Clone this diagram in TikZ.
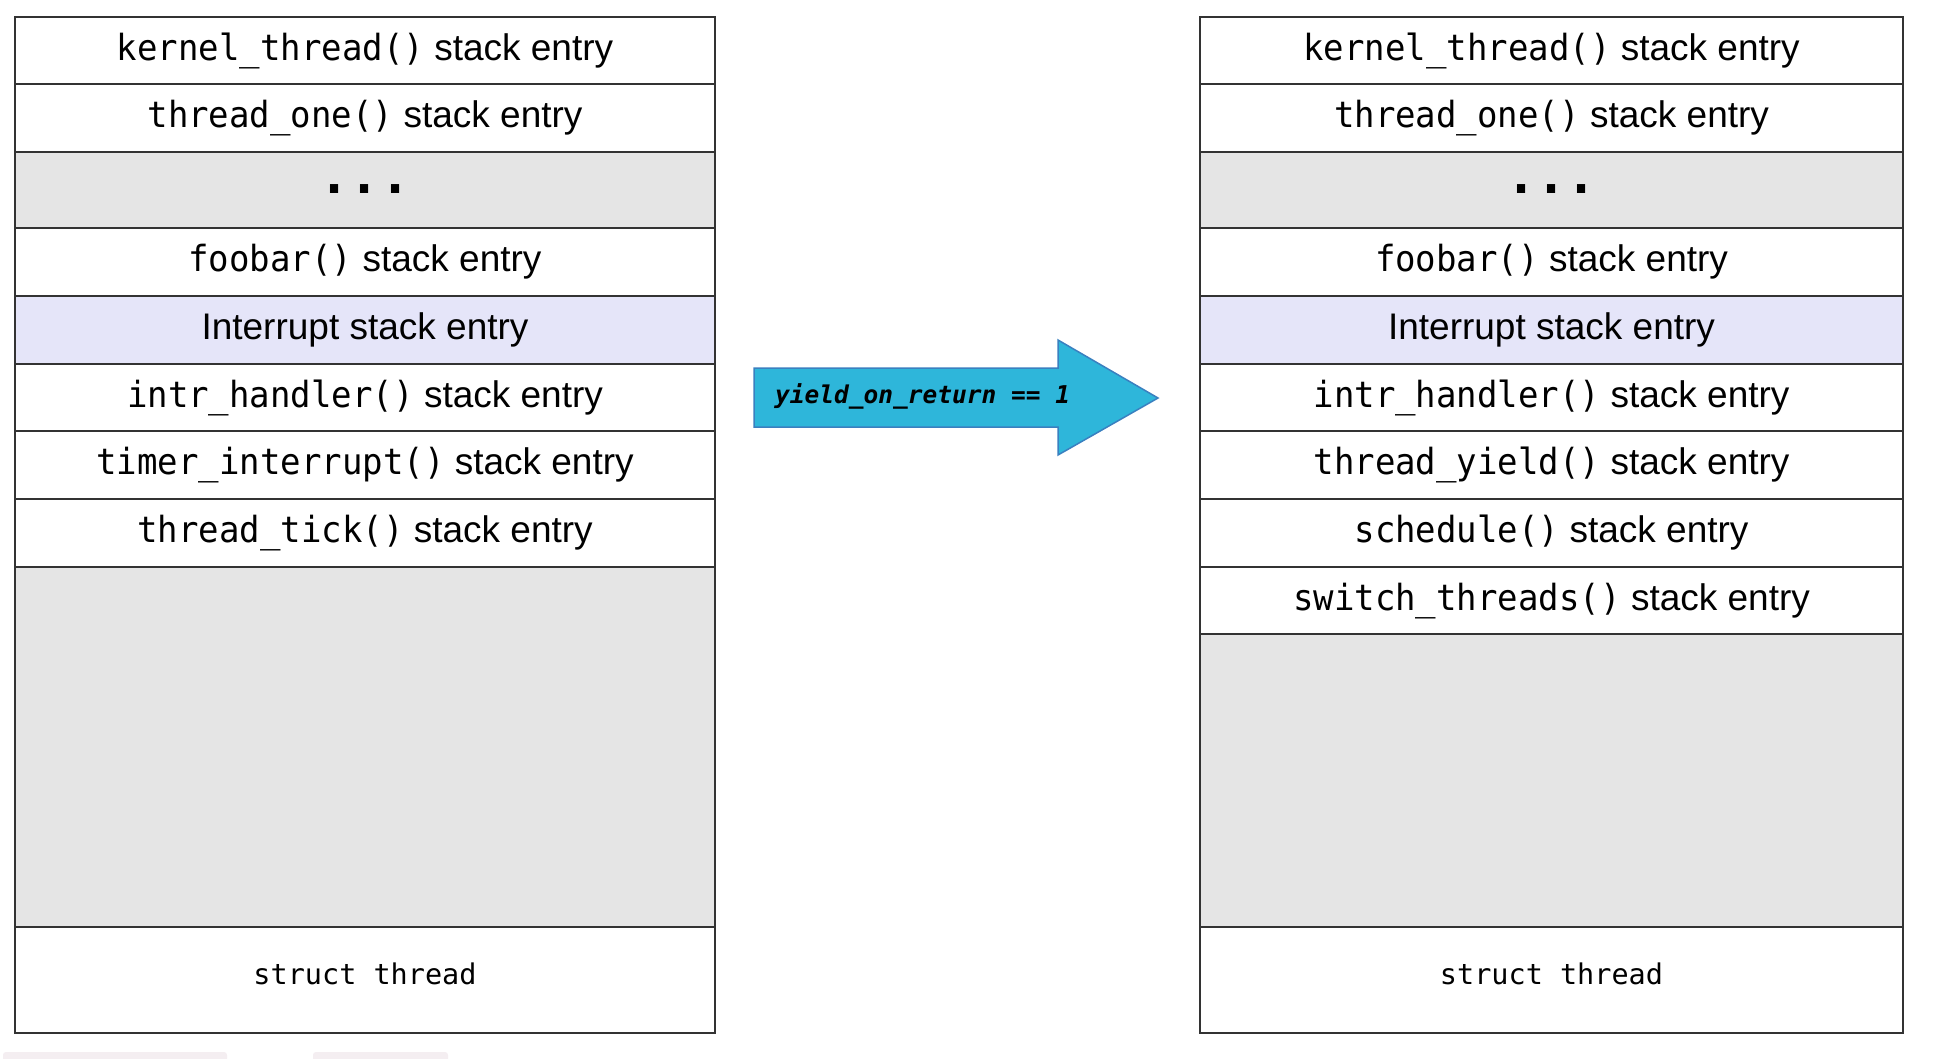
\documentclass[tikz,border=0pt]{standalone}
\usepackage{fontspec}
\setmainfont{Liberation Sans}
\newfontfamily\monofont{DejaVu Sans Mono}
\newfontfamily\monotall{DejaVu Sans Mono}[FakeStretch=0.945]
\definecolor{linec}{HTML}{333333}
\definecolor{grayfill}{HTML}{E5E5E5}
\definecolor{lavfill}{HTML}{E5E5F9}
\definecolor{arrfill}{HTML}{2EB6DA}
\definecolor{arrline}{HTML}{3A80C0}
\definecolor{artc}{HTML}{F4EEF1}
\newcommand\cf[1]{{\monotall\fontsize{36}{42}\selectfont #1}}
\begin{document}
\begin{tikzpicture}[x=1pt,y=-1pt,
  cell/.style={draw=linec, line width=2.2pt, inner sep=0pt, anchor=north,
    text height=25pt, text depth=5.6pt,
    font=\fontsize{37}{44}\selectfont},
  lcell/.style={cell, minimum width=700pt},
  rcell/.style={cell, minimum width=703pt},
  dotsfont/.style={text height=10pt, text depth=4pt,
    font=\monofont\bfseries\fontsize{50}{56}\selectfont},
  structfont/.style={text height=15pt, text depth=6pt,
    font=\monofont\fontsize{28.5}{34}\selectfont}]
\useasboundingbox (0,0) rectangle (1942,1058);
\fill[white] (0,0) rectangle (1942,1058);
% faint artifacts at the bottom edge
\fill[artc, rounded corners=3pt] (3,1052) rectangle (227,1064);
\fill[artc, rounded corners=3pt] (313,1052) rectangle (448,1064);
% left column
\node[lcell, minimum height=67pt] (L1) at (365,16) {\cf{kernel\_thread()} stack entry};
\node[lcell, minimum height=68pt] (L2) at (365,83) {\cf{thread\_one()} stack entry};
\node[lcell, minimum height=76pt, fill=grayfill, dotsfont] (L3) at (365,151) {...};
\node[lcell, minimum height=68pt] (L4) at (365,227) {\cf{foobar()} stack entry};
\node[lcell, minimum height=68pt, fill=lavfill] (L5) at (365,295) {Interrupt stack entry};
\node[lcell, minimum height=67pt] (L6) at (365,363) {\cf{intr\_handler()} stack entry};
\node[lcell, minimum height=68pt] (L7) at (365,430) {\cf{timer\_interrupt()} stack entry};
\node[lcell, minimum height=68pt] (L8) at (365,498) {\cf{thread\_tick()} stack entry};
\node[lcell, minimum height=360pt, fill=grayfill] (L9) at (365,566) {};
\node[lcell, minimum height=106pt, structfont] (L10) at (365,926) {struct thread};
% right column
\node[rcell, minimum height=67pt] (R1) at (1551.5,16) {\cf{kernel\_thread()} stack entry};
\node[rcell, minimum height=68pt] (R2) at (1551.5,83) {\cf{thread\_one()} stack entry};
\node[rcell, minimum height=76pt, fill=grayfill, dotsfont] (R3) at (1551.5,151) {...};
\node[rcell, minimum height=68pt] (R4) at (1551.5,227) {\cf{foobar()} stack entry};
\node[rcell, minimum height=68pt, fill=lavfill] (R5) at (1551.5,295) {Interrupt stack entry};
\node[rcell, minimum height=67pt] (R6) at (1551.5,363) {\cf{intr\_handler()} stack entry};
\node[rcell, minimum height=68pt] (R7) at (1551.5,430) {\cf{thread\_yield()} stack entry};
\node[rcell, minimum height=68pt] (R8) at (1551.5,498) {\cf{schedule()} stack entry};
\node[rcell, minimum height=67pt] (R9) at (1551.5,566) {\cf{switch\_threads()} stack entry};
\node[rcell, minimum height=293pt, fill=grayfill] (R10) at (1551.5,633) {};
\node[rcell, minimum height=106pt, structfont] (R11) at (1551.5,926) {struct thread};
% block arrow
\draw[fill=arrfill, draw=arrline, line width=1.5pt, line join=miter]
  (754,368) -- (1058,368) -- (1058,340) -- (1158,398) -- (1058,455)
  -- (1058,427) -- (754,427) -- cycle;
\node[anchor=base west, inner sep=0pt,
  font=\monofont\bfseries\itshape\fontsize{24.5}{30}\selectfont] (cond) at (775,403)
  {yield\_on\_return == 1};
\end{tikzpicture}
\end{document}
